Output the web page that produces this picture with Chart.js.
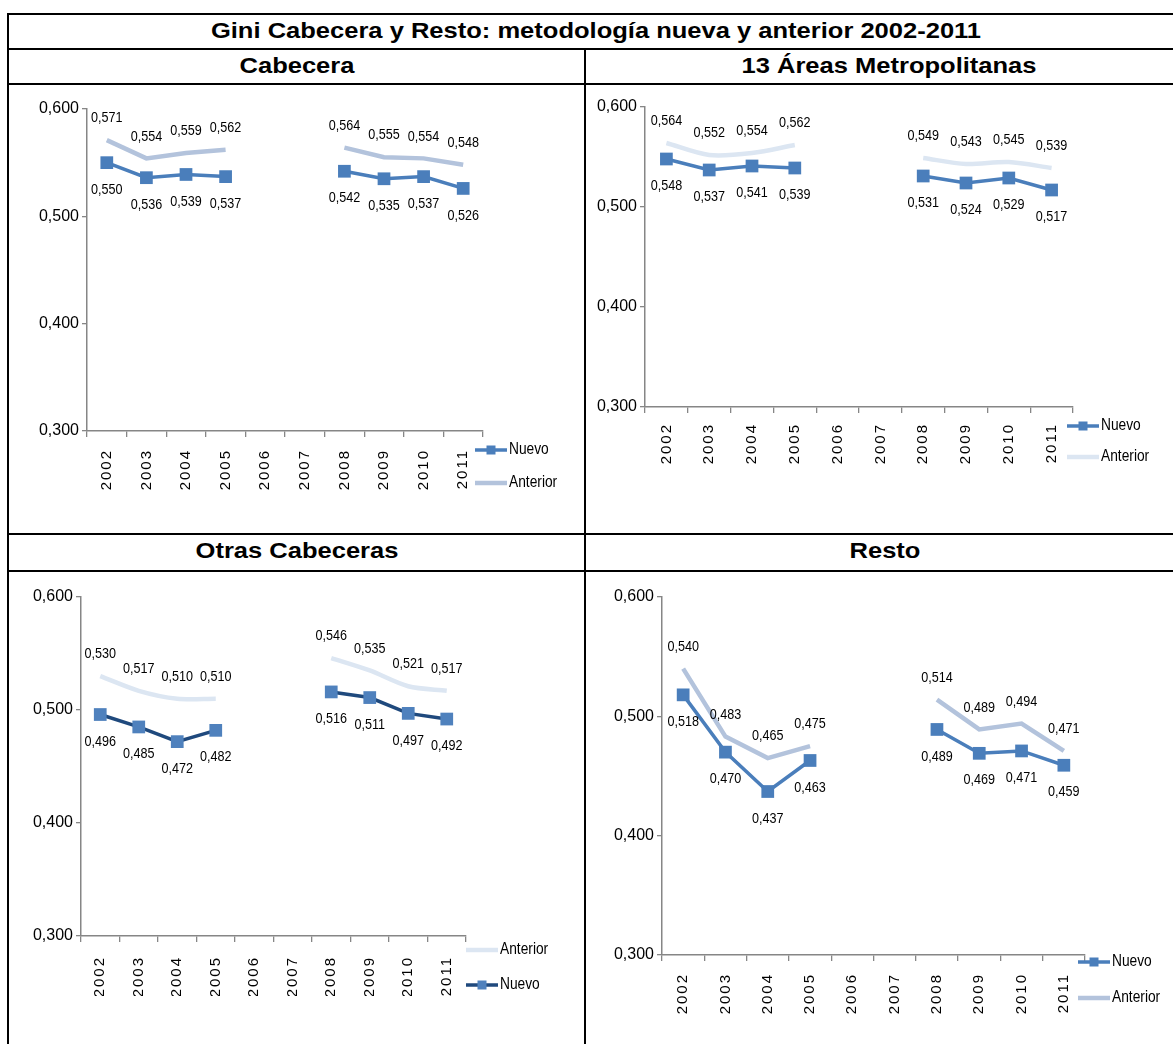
<!DOCTYPE html>
<html lang="es">
<head>
<meta charset="UTF-8">
<title>Gini Cabecera y Resto</title>
<script src="https://cdn.jsdelivr.net/npm/chart.js"></script>
<style>
  body { margin: 0; background: #fff; width: 1173px; height: 1044px; position: relative; overflow: hidden;
         font-family: "Liberation Sans", Arial, sans-serif; }
  .hl { position: absolute; background: #000; height: 2px; left: 7px; width: 1200px; }
  .vl { position: absolute; background: #000; width: 2px; }
  .cap { position: absolute; width: 800px; text-align: center; font-weight: bold; font-size: 22px;
         line-height: 26px; color: #000; transform: scaleX(1.16); transform-origin: center; }
  canvas { position: absolute; }
</style>
</head>
<body>
<div class="hl" style="top:13px"></div>
<div class="hl" style="top:48px"></div>
<div class="hl" style="top:83px"></div>
<div class="hl" style="top:533px"></div>
<div class="hl" style="top:570px"></div>
<div class="vl" style="left:7px; top:13px; height:1040px"></div>
<div class="vl" style="left:584px; top:48px; height:1000px"></div>

<div class="cap" style="left:196px; top:18px">Gini Cabecera y Resto: metodología nueva y anterior 2002-2011</div>
<div class="cap" style="left:-103px; top:53px">Cabecera</div>
<div class="cap" style="left:489px; top:53px">13 Áreas Metropolitanas</div>
<div class="cap" style="left:-103px; top:538px">Otras Cabeceras</div>
<div class="cap" style="left:485px; top:538px">Resto</div>

<canvas id="c1"></canvas>
<canvas id="c2"></canvas>
<canvas id="c3"></canvas>
<canvas id="c4"></canvas>

<script>
const years = ['2002', '2003', '2004', '2005', '2006', '2007', '2008', '2009', '2010', '2011'];

const cabeceraNuevo    = [0.550, 0.536, 0.539, 0.537, null, null, 0.542, 0.535, 0.537, 0.526];
const cabeceraAnterior = [0.571, 0.554, 0.559, 0.562, null, null, 0.564, 0.555, 0.554, 0.548];

const areasNuevo    = [0.548, 0.537, 0.541, 0.539, null, null, 0.531, 0.524, 0.529, 0.517];
const areasAnterior = [0.564, 0.552, 0.554, 0.562, null, null, 0.549, 0.543, 0.545, 0.539];

const otrasNuevo    = [0.496, 0.485, 0.472, 0.482, null, null, 0.516, 0.511, 0.497, 0.492];
const otrasAnterior = [0.530, 0.517, 0.510, 0.510, null, null, 0.546, 0.535, 0.521, 0.517];

const restoNuevo    = [0.518, 0.470, 0.437, 0.463, null, null, 0.489, 0.469, 0.471, 0.459];
const restoAnterior = [0.540, 0.483, 0.465, 0.475, null, null, 0.514, 0.489, 0.494, 0.471];

const yMin = 0.3, yMax = 0.6, yStep = 0.1;

const FONT = '"Liberation Sans", Arial, sans-serif';
const axisColor = '#868686';
const fmt = v => v.toFixed(3).replace('.', ',');

// squeezed text, the original uses Arial Narrow
function narrowText(ctx, text, x, y, squeeze) {
  ctx.save();
  ctx.translate(x, y);
  ctx.scale(squeeze, 1);
  ctx.fillText(text, 0, 0);
  ctx.restore();
}

// numbers above / below each point
const valueLabels = {
  id: 'valueLabels',
  afterDatasetsDraw(chart) {
    const ctx = chart.ctx;
    ctx.save();
    ctx.letterSpacing = '0px';
    ctx.font = '15px ' + FONT;
    ctx.fillStyle = '#000';
    ctx.textAlign = 'center';
    ctx.textBaseline = 'middle';
    chart.data.datasets.forEach((ds, i) => {
      chart.getDatasetMeta(i).data.forEach((pt, j) => {
        const v = ds.data[j];
        if (v == null) return;
        const dy = ds.labelPos === 'above' ? -22 : 27;
        narrowText(ctx, fmt(v), pt.x, pt.y + dy, 0.84);
      });
    });
    ctx.restore();
  }
};

// small legend at the lower right, like the excel one
const sideLegend = {
  id: 'sideLegend',
  afterDraw(chart, args, opts) {
    const ctx = chart.ctx;
    const a = chart.chartArea;
    ctx.save();
    ctx.letterSpacing = '0px';
    ctx.font = '16px ' + FONT;
    ctx.textBaseline = 'middle';
    opts.order.forEach((di, k) => {
      const ds = chart.data.datasets[di];
      const x = a.right + opts.dx;
      const y = a.bottom + opts.dy + k * opts.gap;
      ctx.strokeStyle = ds.borderColor;
      ctx.lineWidth = ds.borderWidth;
      ctx.beginPath();
      ctx.moveTo(x, y);
      ctx.lineTo(x + 32, y);
      ctx.stroke();
      if (ds.pointRadius > 0) {
        ctx.fillStyle = ds.pointBackgroundColor;
        ctx.fillRect(x + 11.5, y - 4.5, 9, 9);
      }
      ctx.fillStyle = '#000';
      narrowText(ctx, ds.label, x + 34, y, 0.86);
    });
    ctx.restore();
  }
};

// year labels are letter spaced in the original; y tick labels sit on layer z 1, drawn after the reset
const spacedYears = {
  id: 'spacedYears',
  beforeDraw(chart) { chart.ctx.letterSpacing = '2px'; },
  beforeDatasetsDraw(chart) { chart.ctx.letterSpacing = '0px'; }
};

function makePanel(id, box, area, nuevo, anterior, look, legend) {
  const canvas = document.getElementById(id);
  canvas.width = box.w;
  canvas.height = box.h;
  canvas.style.left = box.x + 'px';
  canvas.style.top = box.y + 'px';
  const YW = 52, XH = 60;

  new Chart(canvas, {
    type: 'line',
    data: {
      labels: years,
      datasets: [
        {
          label: 'Nuevo',
          data: nuevo,
          labelPos: 'below',
          borderColor: look.nuevoLine,
          borderWidth: 3.5,
          pointStyle: 'rect',
          pointRadius: 9,
          pointBackgroundColor: look.nuevoPoint,
          pointBorderColor: look.nuevoPoint,
          pointBorderWidth: 0,
          tension: 0
        },
        {
          label: 'Anterior',
          data: anterior,
          labelPos: 'above',
          borderColor: look.anterior,
          borderWidth: 4.5,
          pointRadius: 0,
          tension: look.tension
        }
      ]
    },
    options: {
      responsive: false,
      animation: false,
      events: [],
      layout: {
        padding: {
          left: area.l - box.x - YW,
          right: box.x + box.w - area.r,
          top: area.t - box.y,
          bottom: box.y + box.h - area.b - XH
        }
      },
      plugins: {
        legend: { display: false },
        tooltip: { enabled: false },
        sideLegend: legend
      },
      scales: {
        x: {
          offset: true,
          grid: { offset: true, drawOnChartArea: false, color: axisColor, tickLength: 6, lineWidth: 1.3 },
          border: { color: axisColor, width: 1.5 },
          ticks: {
            autoSkip: false, minRotation: 90, maxRotation: 90, padding: look.xPad,
            color: '#000', font: { family: FONT, size: 15 }
          },
          afterFit: s => { s.height = XH; }
        },
        y: {
          min: yMin, max: yMax,
          grid: { drawOnChartArea: false, color: axisColor, tickLength: 5, lineWidth: 1.3 },
          border: { color: axisColor, width: 1.5 },
          ticks: {
            z: 1,
            stepSize: yStep, padding: 3, color: '#000',
            font: { family: FONT, size: 16 },
            callback: v => fmt(v)
          },
          afterFit: s => { s.width = YW; }
        }
      }
    },
    plugins: [spacedYears, valueLabels, sideLegend]
  });
}

makePanel('c1', { x: 9, y: 85, w: 575, h: 448 }, { l: 87, r: 483, t: 109, b: 431 },
  cabeceraNuevo, cabeceraAnterior,
  { nuevoLine: '#4a7ebb', nuevoPoint: '#4a7ebb', anterior: '#b3c3dc', tension: 0, xPad: 12 },
  { order: [0, 1], dx: -8, dy: 19, gap: 33 });

makePanel('c2', { x: 586, y: 85, w: 587, h: 448 }, { l: 645, r: 1073, t: 107, b: 407 },
  areasNuevo, areasAnterior,
  { nuevoLine: '#4a7ebb', nuevoPoint: '#4a7ebb', anterior: '#dce6f2', tension: 0.3, xPad: 10 },
  { order: [0, 1], dx: -6, dy: 19, gap: 31 });

makePanel('c3', { x: 9, y: 572, w: 575, h: 472 }, { l: 81, r: 466, t: 597, b: 936 },
  otrasNuevo, otrasAnterior,
  { nuevoLine: '#1f497d', nuevoPoint: '#4f81bd', anterior: '#dce6f2', tension: 0.3, xPad: 14 },
  { order: [1, 0], dx: 0, dy: 14, gap: 35 });

makePanel('c4', { x: 586, y: 572, w: 587, h: 472 }, { l: 662, r: 1085, t: 597, b: 955 },
  restoNuevo, restoAnterior,
  { nuevoLine: '#4a7ebb', nuevoPoint: '#4a7ebb', anterior: '#b3c3dc', tension: 0, xPad: 12 },
  { order: [0, 1], dx: -7, dy: 7, gap: 36 });
</script>
</body>
</html>
